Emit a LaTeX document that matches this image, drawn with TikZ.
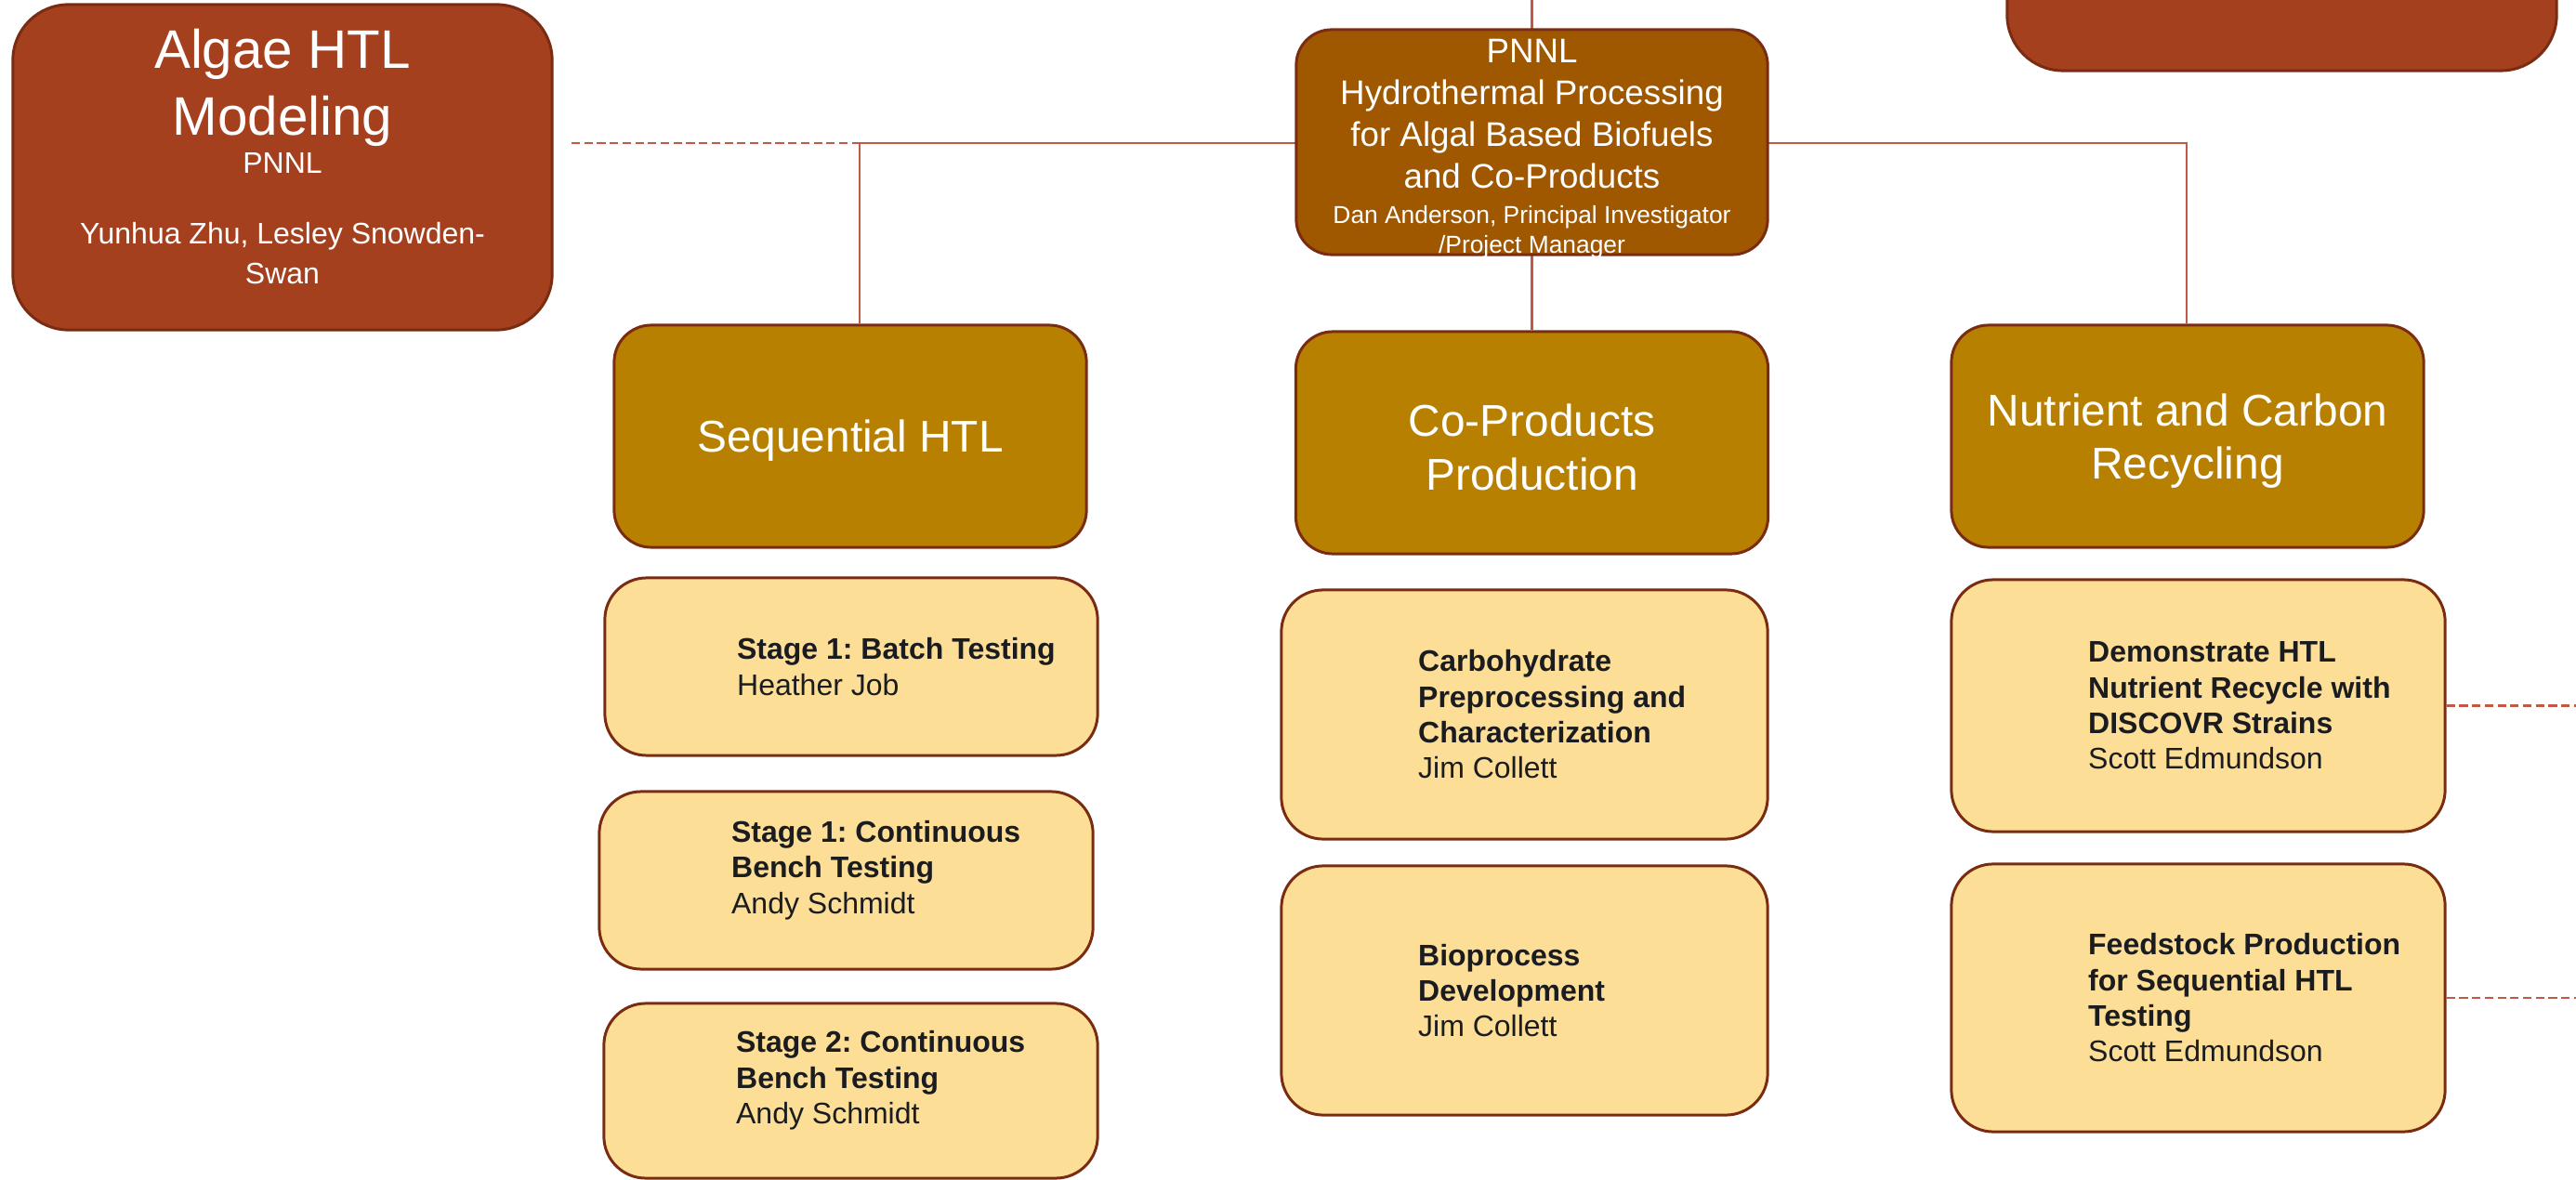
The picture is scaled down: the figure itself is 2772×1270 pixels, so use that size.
\documentclass[tikz,border=0pt]{standalone}
\usepackage{fontspec}
\setmainfont{Liberation Sans}
\usetikzlibrary{positioning,backgrounds}

\definecolor{rust}{RGB}{165,64,31}
\definecolor{rimbrown}{RGB}{122,44,18}
\definecolor{hubfill}{RGB}{160,88,0}
\definecolor{gold}{RGB}{184,128,0}
\definecolor{sand}{RGB}{253,222,150}
\definecolor{wire}{RGB}{192,90,70}
\definecolor{ink}{RGB}{26,28,32}

\newcommand{\branchlift}{\rule{0pt}{12.7pt}}

\tikzset{
  box/.style={draw=rimbrown, line width=0.85pt, inner sep=0pt},
  lead/.style={box, fill=rust, rounded corners=0.6cm},
  hub/.style={box, fill=hubfill, rounded corners=0.38cm},
  boxtext/.style={text=white, align=flush center, inner sep=0pt},
  branch/.style={box, fill=gold, rounded corners=0.4cm, text=white, align=center,
    font=\fontsize{13.6}{16.4}\selectfont, minimum width=5.08cm, minimum height=2.39cm},
  task/.style={box, fill=sand, rounded corners=0.45cm},
  tasktext/.style={align=left, text=ink, inner sep=0pt, font=\fontsize{9.1}{10.9}\selectfont},
  link/.style={draw=wire, line width=0.6pt},
  dashlink/.style={link, dash pattern=on 2.6pt off 1.3pt}
}

\begin{document}
\frenchspacing
\begin{tikzpicture}[x=0.01cm, y=-0.01cm]
\useasboundingbox (0,0) rectangle (2772,1270);

% lead and top boxes
\node[lead, minimum width=5.8cm, minimum height=3.5cm] (algae) at (304,180) {};
\node[boxtext, text width=5.5cm, yshift=0.115cm] (algaet) at (algae.center)
  {{\fontsize{16.6}{20.4}\selectfont Algae HTL\\Modeling\par}\fontsize{9.1}{11.7}\selectfont PNNL\\[10pt]Yunhua Zhu, Lesley Snowden-\\Swan};
\node[lead, minimum width=5.91cm, minimum height=2.26cm] (upper) at (2455.5,-37) {};
\node[hub, minimum width=5.07cm, minimum height=2.42cm] (hub) at (1648.5,153) {};
\node[boxtext, text width=4.9cm, font=\fontsize{10.45}{12.8}\selectfont, yshift=-0.07cm] (hubt) at (hub.center)
  {PNNL\\Hydrothermal Processing\\for Algal Based Biofuels\\and Co-Products\par\vspace{1.8pt}
   {\fontsize{7.5}{9.1}\selectfont Dan Anderson, Principal Investigator\\/Project Manager\par}};

% branches
\node[branch] (seq) at (915,469.5) {\branchlift Sequential HTL};
\node[branch] (cop) at (1648.5,476.5) {\branchlift Co-Products\\Production};
\node[branch] (nut) at (2354,469.5) {\branchlift Nutrient and Carbon\\Recycling};

% tasks
\node[task, minimum width=5.30cm, minimum height=1.91cm] (s1) at (916,717.5) {};
\node[task, minimum width=5.31cm, minimum height=1.91cm] (s2) at (910.5,947.5) {};
\node[task, minimum width=5.31cm, minimum height=1.88cm] (s3) at (915.5,1174) {};
\node[task, minimum width=5.23cm, minimum height=2.68cm] (carb) at (1640.5,769) {};
\node[task, minimum width=5.23cm, minimum height=2.68cm] (bio) at (1640.5,1066) {};
\node[task, minimum width=5.31cm, minimum height=2.71cm] (dem) at (2365.5,759.5) {};
\node[task, minimum width=5.31cm, minimum height=2.88cm] (feed) at (2365.5,1074) {};

\node[tasktext, right=1.43cm of s1.west] (s1t) {\textbf{Stage 1: Batch Testing}\\Heather Job};
\node[tasktext, right=1.43cm of s2.west, yshift=0.11cm] (s2t) {\textbf{Stage 1: Continuous}\\\textbf{Bench Testing}\\Andy Schmidt};
\node[tasktext, right=1.43cm of s3.west, yshift=0.11cm] (s3t) {\textbf{Stage 2: Continuous}\\\textbf{Bench Testing}\\Andy Schmidt};
\node[tasktext, right=1.48cm of carb.west] (carbt) {\textbf{Carbohydrate}\\\textbf{Preprocessing and}\\\textbf{Characterization}\\Jim Collett};
\node[tasktext, right=1.48cm of bio.west] (biot) {\textbf{Bioprocess}\\\textbf{Development}\\Jim Collett};
\node[tasktext, right=1.48cm of dem.west] (demt) {\textbf{Demonstrate HTL}\\\textbf{Nutrient Recycle with}\\\textbf{DISCOVR Strains}\\Scott Edmundson};
\node[tasktext, right=1.48cm of feed.west] (feedt) {\textbf{Feedstock Production}\\\textbf{for Sequential HTL}\\\textbf{Testing}\\Scott Edmundson};

% connectors
\coordinate (topedge) at (1648.5,0);
\coordinate (pageright) at (2772,0);
\coordinate (jl) at (925,154);
\coordinate (jr) at (2353,154);
\coordinate (dl) at (615,154);
\begin{scope}[on background layer]
\draw[link] (topedge) -- (cop.north);
\draw[link] (seq.north -| jl) -- (jl) -- (jr) -- (jr |- nut.north);
\draw[dashlink] (dl) -- (jl);
\draw[dashlink] (dem.east) -- (dem.east -| pageright);
\draw[dashlink] (feed.east) -- (feed.east -| pageright);
\end{scope}
\end{tikzpicture}
\end{document}
